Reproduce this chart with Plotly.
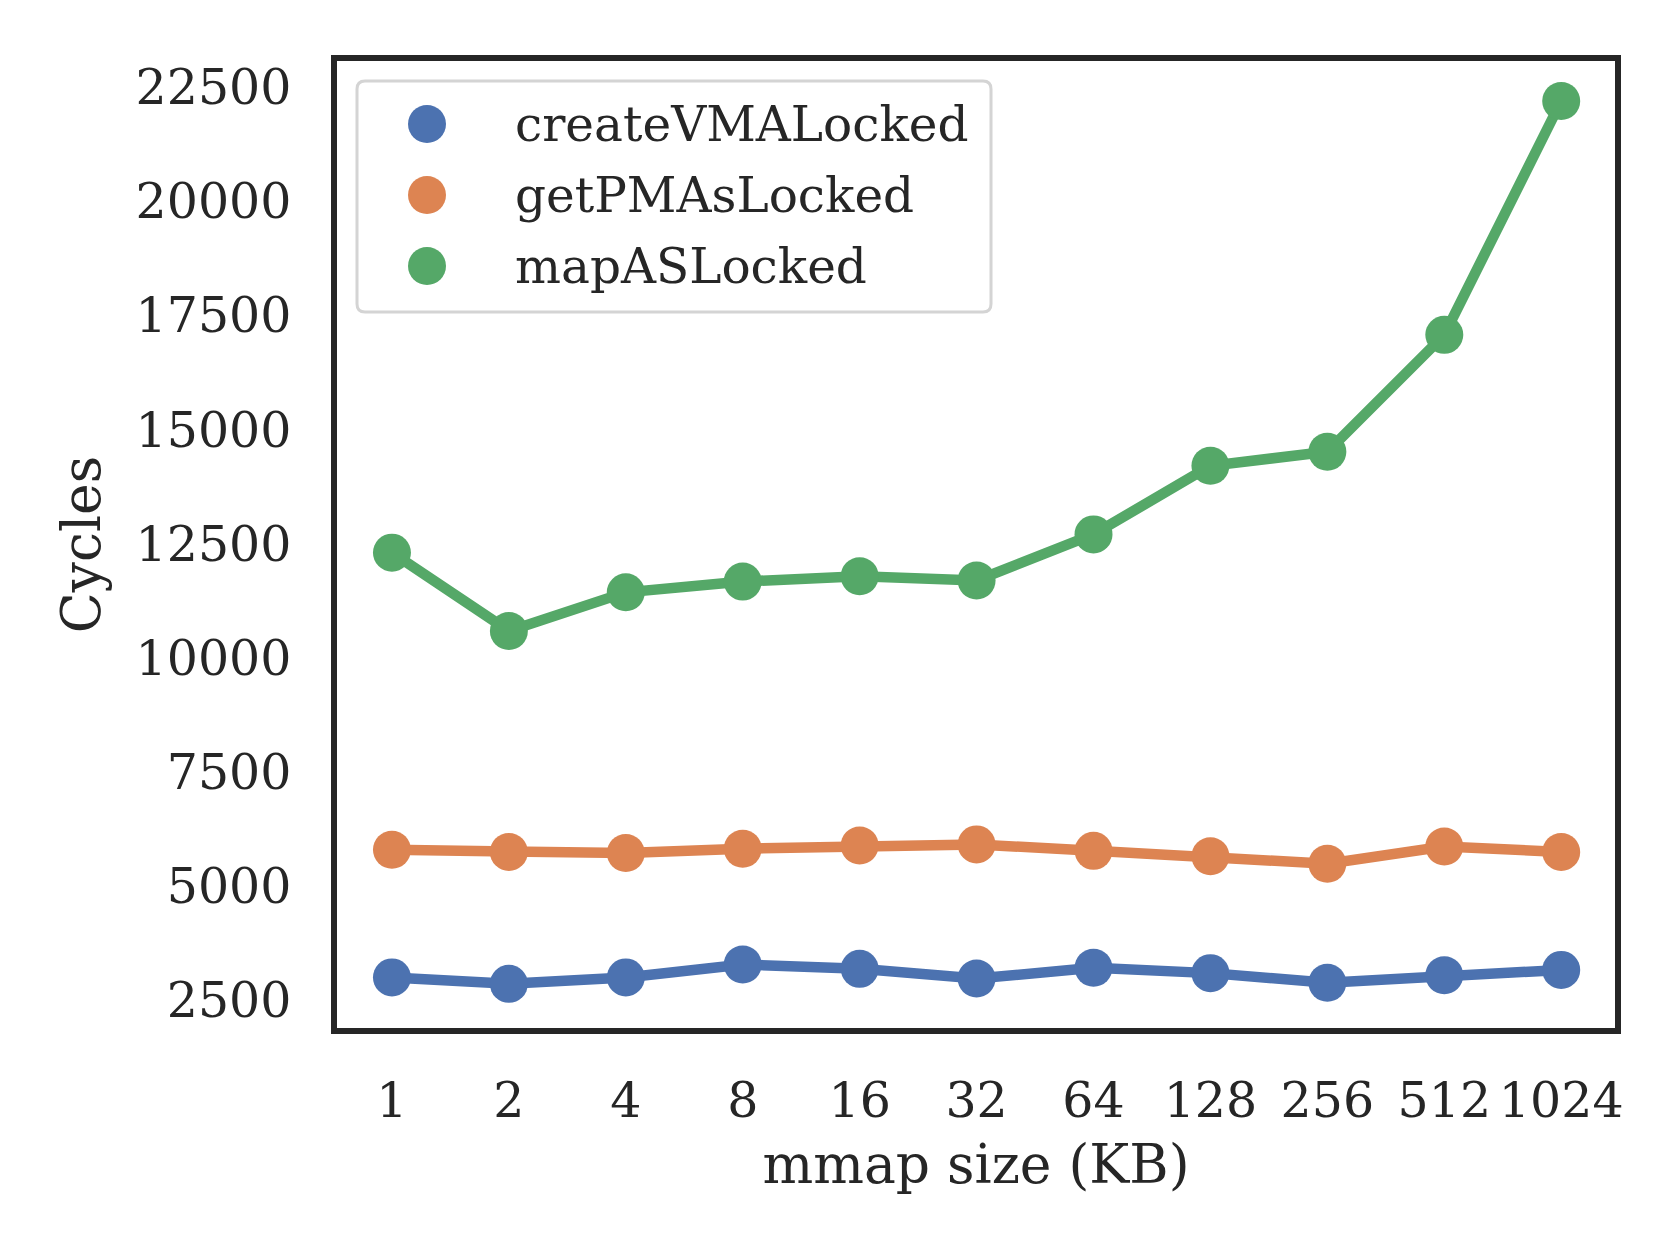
import plotly.graph_objects as go

sizes = ["1", "2", "4", "8", "16", "32", "64", "128", "256", "512", "1024"]
create_vma = [2995, 2854, 2995, 3277, 3183, 2971, 3206, 3089, 2877, 3042, 3160]
get_pmas = [5791, 5744, 5720, 5815, 5885, 5909, 5768, 5650, 5486, 5862, 5744]
map_as = [12300, 10585, 11431, 11666, 11784, 11690, 12700, 14204, 14510, 17071, 22194]
series_names = ["createVMALocked", "getPMAsLocked", "mapASLocked"]
colors = ["#4c72b0", "#dd8452", "#55a868"]

FONT = "DejaVu Serif"
TXT = "#262626"

fig = go.Figure()
for name, vals, c in zip(series_names, [create_vma, get_pmas, map_as], colors):
    fig.add_trace(go.Scatter(
        x=sizes, y=vals, name=name, mode="lines+markers",
        line=dict(color=c, width=10.5),
        marker=dict(color=c, size=38),
        showlegend=False,
    ))

# plot area (inner edge of frame) in pixels
L, R, T, B = 337, 1615, 61, 1028
W, H = R - L, B - T
def px(x): return (x - L) / W
def py(y): return (B - y) / H

# manual legend (large markers like the reference)
bx0, bx1, by0, by1 = px(357), px(991), py(312), py(81)
rx, ry = 8 / W, 8 / H
path = (f"M {bx0+rx},{by1} L {bx1-rx},{by1} Q {bx1},{by1} {bx1},{by1-ry} "
        f"L {bx1},{by0+ry} Q {bx1},{by0} {bx1-rx},{by0} L {bx0+rx},{by0} "
        f"Q {bx0},{by0} {bx0},{by0+ry} L {bx0},{by1-ry} Q {bx0},{by1} {bx0+rx},{by1} Z")
shapes = [dict(type="path", xref="paper", yref="paper", path=path,
               fillcolor="rgba(255,255,255,0.8)", line=dict(color="#d4d4d4", width=3))]
annotations = []
rows = [124, 195, 266]
for name, c, ry_ in zip(series_names, colors, rows):
    shapes.append(dict(type="circle", xref="paper", yref="paper",
                       xsizemode="pixel", ysizemode="pixel",
                       xanchor=px(427), yanchor=py(ry_),
                       x0=-19, x1=19, y0=-19, y1=19,
                       fillcolor=c, line=dict(width=0)))
    annotations.append(dict(xref="paper", yref="paper", x=px(513), y=py(ry_),
                            text=name, showarrow=False, xanchor="left", yanchor="middle",
                            font=dict(family=FONT, size=48.5, color=TXT)))

fig.update_layout(
    width=1680, height=1260,
    margin=dict(l=L, r=1680 - R, t=T, b=1260 - B),
    plot_bgcolor="white", paper_bgcolor="white",
    font=dict(family=FONT, size=48, color=TXT),
    shapes=shapes, annotations=annotations,
    showlegend=False,
)
fig.update_xaxes(
    type="category", range=[-0.47, 10.46],
    showline=True, mirror=True, linecolor=TXT, linewidth=5.5,
    showgrid=False, zeroline=False, ticks="", ticklabelstandoff=24,
    tickfont=dict(family=FONT, size=49, color=TXT),
    title=dict(text="mmap size (KB)", font=dict(family=FONT, size=53.5, color=TXT), standoff=20),
)
fig.update_yaxes(
    range=[1887, 23070], tick0=2500, dtick=2500, tickformat="d",
    showline=True, mirror=True, linecolor=TXT, linewidth=5.5,
    showgrid=False, zeroline=False, ticks="", ticklabelstandoff=30,
    tickfont=dict(family=FONT, size=49, color=TXT),
    title=dict(text="Cycles", font=dict(family=FONT, size=53.5, color=TXT), standoff=20),
)

fig.write_html("out.html")
